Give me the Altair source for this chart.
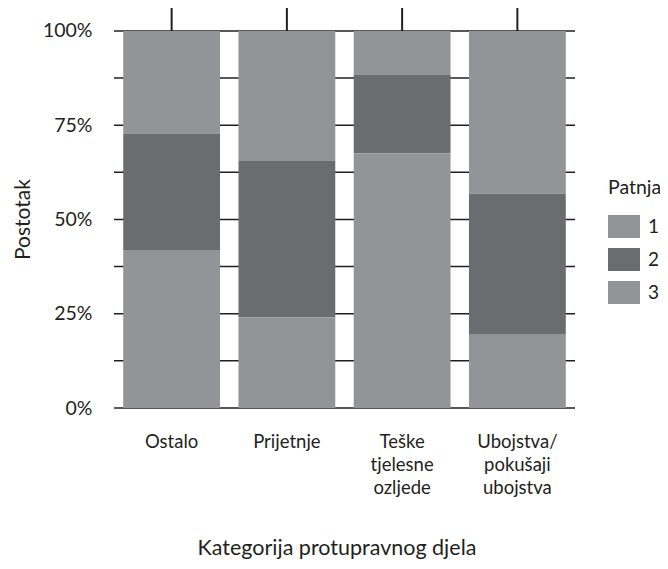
import altair as alt
import pandas as pd

# ---- data ----
categories = ["Ostalo", "Prijetnje", "Teške tjelesne ozljede", "Ubojstva/ pokušaji ubojstva"]
series = ["1", "2", "3"]
share_1 = [0.272, 0.345, 0.117, 0.432]   # top segment
share_2 = [0.309, 0.414, 0.207, 0.374]   # middle (dark) segment
share_3 = [0.419, 0.241, 0.676, 0.194]   # bottom segment
stack_order = [2, 1, 0]                  # 3 at the bottom, 1 on top
y_tick_values = [0, 0.25, 0.5, 0.75, 1.0]
grid_values = [0, 0.125, 0.25, 0.375, 0.5, 0.625, 0.75, 0.875, 1.0]
series_colors = ["#939497", "#6b6c70", "#939497"]

rows = []
for i, c in enumerate(categories):
    for s, vals, o in zip(series, [share_1, share_2, share_3], stack_order):
        rows.append({"cat": c, "Patnja": s, "val": vals[i], "ord": o})
df = pd.DataFrame(rows)
grid_df = pd.DataFrame({"g": grid_values})
top_df = pd.DataFrame({"cat": categories, "one": [1.0] * len(categories)})

W, H = 461, 400
Y_TOP = 1.061
FONT = "Lato"
INK = "#231f20"

x_scale = alt.Scale(domain=categories, paddingInner=0.16, paddingOuter=0.08)
x_axis = alt.Axis(
    title="Kategorija protupravnog djela",
    labelAngle=0,
    labelExpr="split(datum.label, ' ')",
    domain=False,
    ticks=False,
    grid=False,
    labelPadding=24,
    labelLineHeight=23,
    labelFontSize=18.5,
    titleFontSize=21.5,
    titleX=W / 2 - 8,
    titleY=146,
    titleBaseline="alphabetic",
)
y_scale = alt.Scale(domain=[0, Y_TOP], nice=False, zero=True)
y_axis = alt.Axis(
    title="Postotak",
    values=y_tick_values,
    format=".0%",
    domain=False,
    ticks=False,
    grid=False,
    labelPadding=22,
    labelFontSize=19.5,
    titleFontSize=21,
    titlePadding=9,
    titleY=211,
)

hgrid = alt.Chart(grid_df).mark_rule(color=INK, strokeWidth=1.5).encode(
    y=alt.Y("g:Q", scale=y_scale, axis=y_axis),
    x=alt.value(0),
    x2=alt.value(W),
)

vlines = alt.Chart(top_df).mark_rule(color=INK, strokeWidth=2).encode(
    x=alt.X("cat:N", scale=x_scale, axis=x_axis, sort=categories),
    y=alt.Y("one:Q", scale=y_scale, axis=y_axis),
    y2=alt.value(0),
)

bars = alt.Chart(df).mark_bar(stroke=None).encode(
    x=alt.X("cat:N", scale=x_scale, axis=x_axis, sort=categories),
    y=alt.Y("val:Q", stack="zero", scale=y_scale, axis=y_axis),
    color=alt.Color(
        "Patnja:N",
        scale=alt.Scale(domain=series, range=series_colors),
        legend=alt.Legend(
            title="Patnja",
            orient="none",
            legendX=494,
            legendY=171,
            symbolType="M-1,-0.72H1V0.72H-1Z",
            symbolSize=1024,
            symbolStrokeWidth=0,
            symbolOpacity=1,
            labelOffset=8,
            rowPadding=5,
            titlePadding=12,
            labelFontSize=19,
            titleFontSize=19.5,
        ),
    ),
    order=alt.Order("ord:Q"),
)

chart = (
    alt.layer(hgrid, vlines, bars)
    .properties(
        width=W,
        height=H,
        autosize=alt.AutoSizeParams(type="none"),
        padding={"left": 106, "top": 0, "right": 85, "bottom": 153},
    )
    .configure(font=FONT)
    .configure_view(stroke=None)
    .configure_axis(
        titleFontWeight="normal",
        labelColor=INK,
        titleColor=INK,
    )
    .configure_legend(
        titleFontWeight="normal",
        labelColor=INK,
        titleColor=INK,
    )
)

chart.save("out.html", embed_options={"renderer": "svg", "actions": False})
